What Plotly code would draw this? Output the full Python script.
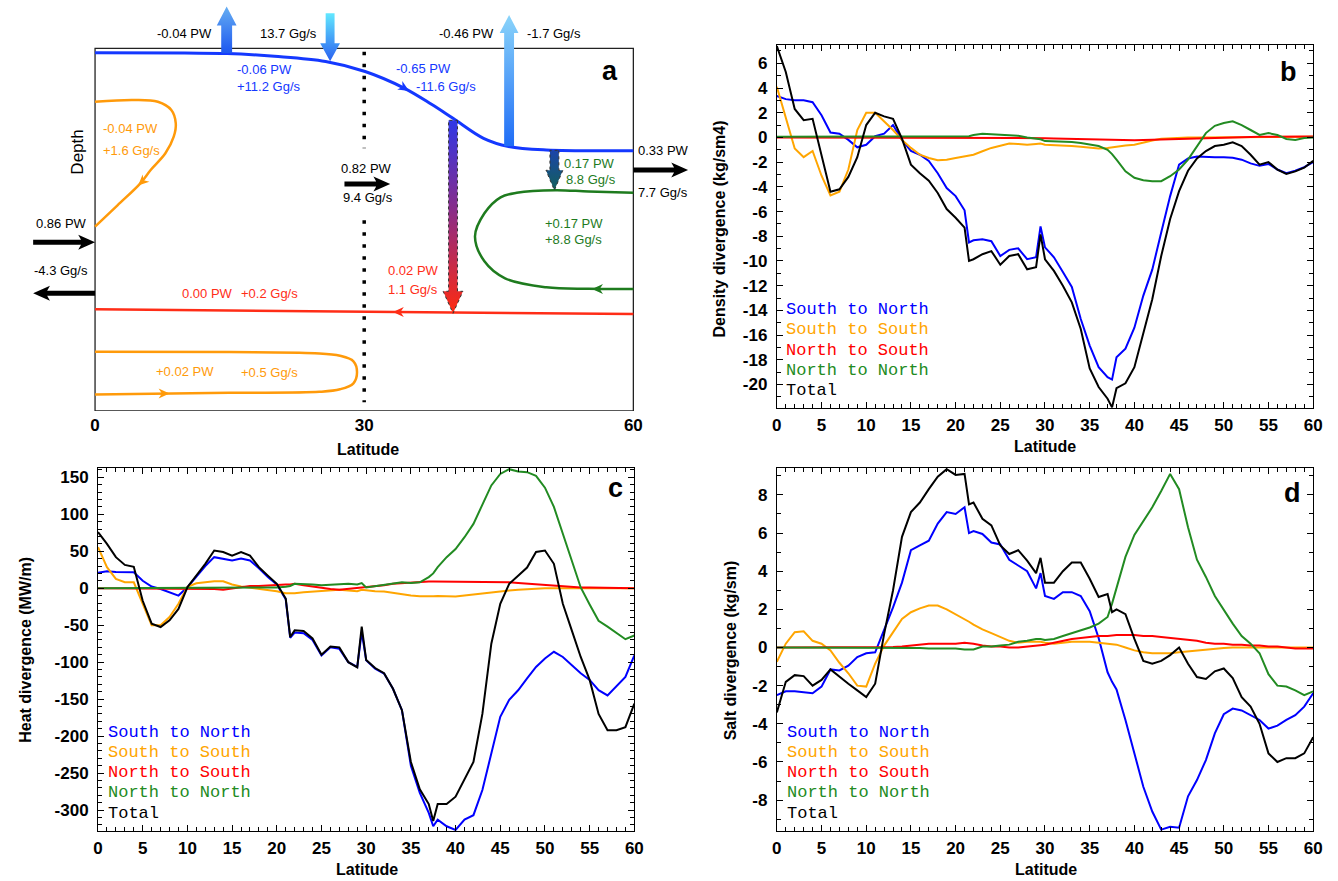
import math
import plotly.graph_objects as go

W, H = 1338, 881

# ---------------------------------------------------------------- data (panels b, c, d)
LAT = list(range(0, 22)) + [21.5] + list(range(22, 30)) + [29.5] + list(range(30, 38)) + [37.5] + list(range(38, 61))

SERIES_NAMES = ["South to North", "South to South", "North to South", "North to North", "Total"]
SERIES_COLORS = ["#0000ff", "#ffa500", "#ff0000", "#228b22", "#000000"]

# density divergence (kg/sm4)
b_s2n = [3.35, 3.1, 3.0, 3.0, 2.85, 1.8, 0.4, 0.3, -0.2, -0.8,
         -0.6, 0.1, 0.3, 1.0, -0.2, -1.1, -1.4, -1.9, -2.9, -4.1,
         -4.75, -5.9, -8.5,
         -8.33, -8.25, -8.4, -9.6, -9.1, -8.97, -9.86, -9.7,
         -7.2,
         -8.9, -9.7, -10.9, -12.1, -14.7, -16.85, -18.6, -19.4,
         -19.6,
         -17.8, -17.1, -15.4, -12.8, -10.7, -7.7, -4.75, -2.2, -1.7, -1.55,
         -1.6, -1.6, -1.6, -1.65, -1.8, -2.1, -2.3, -2.15, -2.6, -2.9,
         -2.7, -2.4, -2.0]
b_s2s = [4.1, 1.5, -0.9, -1.6, -1.1, -3.1, -4.7, -4.4, -2.6, 0.6,
         2.0, 2.0, 1.3, 0.6, -0.2, -0.85, -1.4, -1.66, -1.85, -1.8,
         -1.66, -1.53, -1.5,
         -1.4, -1.12, -0.85, -0.67, -0.5, -0.53, -0.6, -0.53,
         -0.5,
         -0.6, -0.62, -0.65, -0.7, -0.75, -0.85, -0.9, -0.85,
         -0.8,
         -0.7, -0.65, -0.6, -0.4, -0.25, -0.1, -0.05, 0.0, 0.0, 0.0,
         0.0, 0.0, 0.0, 0.0, 0.0, 0.0, 0.02, 0.03, 0.04, 0.05,
         0.05, 0.05, 0.05]
b_n2s = [0, 0, 0, 0, 0, 0, 0, 0, 0, 0,
         0, 0, 0, 0, 0, 0, 0, 0, 0, 0,
         0, 0, 0,
         0, 0, 0, -0.02, -0.03, -0.05, -0.05, -0.05,
         -0.05,
         -0.06, -0.08, -0.1, -0.12, -0.14, -0.15, -0.15, -0.17,
         -0.18,
         -0.2, -0.22, -0.22, -0.2, -0.18, -0.15, -0.12, -0.1, -0.07, -0.05,
         -0.02, 0.0, 0.02, 0.03, 0.04, 0.05, 0.05, 0.05, 0.06, 0.06,
         0.07, 0.08, 0.08]
b_n2n = [0.05, 0.05, 0.05, 0.05, 0.05, 0.05, 0.05, 0.05, 0.05, 0.05,
         0.05, 0.05, 0.05, 0.05, 0.05, 0.05, 0.05, 0.05, 0.05, 0.05,
         0.05, 0.08, 0.1,
         0.2, 0.3, 0.25, 0.2, 0.17, 0.13, 0.0, -0.1,
         -0.15,
         -0.3, -0.32, -0.33, -0.38, -0.45, -0.55, -0.7, -1.0,
         -1.35,
         -1.8, -2.74, -3.27, -3.46, -3.54, -3.54, -3.14, -2.6, -1.8, -0.7,
         0.35, 0.94, 1.16, 1.3, 1.0, 0.6, 0.2, 0.35, 0.2, -0.13,
         -0.2, -0.05, 0.0]
b_tot = [7.4, 5.3, 2.3, 1.4, 1.5, -1.5, -4.4, -4.2, -3.2, -1.6,
         1.0, 2.0, 1.7, 1.5, -0.1, -2.2, -2.9, -3.5, -4.5, -5.8,
         -6.5, -7.3, -10.0,
         -9.86, -9.45, -9.2, -10.3, -9.6, -9.45, -10.67, -10.5,
         -7.85,
         -9.86, -10.8, -12.0, -13.35, -15.5, -18.7, -20.2, -21.15,
         -21.85,
         -20.3, -19.9, -18.6, -15.8, -13.1, -9.6, -6.6, -4.35, -2.7, -1.7,
         -1.1, -0.7, -0.6, -0.4, -0.7, -1.4, -2.2, -2.0, -2.6, -2.95,
         -2.75, -2.45, -1.9]

# heat divergence (MW/m)
c_s2n = [21, 23, 22, 22, 21.5, 10, 2.3, -1, -5.4, -10,
         1.3, 15, 30, 42, 40, 37.5, 40, 37.5, 27, 15,
         5, -15, -67,
         -60, -61, -70, -91, -80, -82, -100, -106.5,
         -59,
         -97.5, -109, -115.5, -136, -165, -240, -277, -304,
         -322,
         -313, -322, -327, -313, -307, -273, -223, -174, -151, -138,
         -122, -106.5, -95, -86, -93, -104, -115, -124, -138, -145,
         -133, -120, -91]
c_s2s = [55.5, 28.5, 12.6, 8, 8, -21, -50, -50, -39, -21,
         2, 6.7, 8, 9.5, 9.5, 5, 2.2, 0.5, -1, -2.2,
         -4, -6.7, -7,
         -6.7, -5.4, -4.5, -3.6, -2.2, -2.2, -3.1, -4,
         -2,
         -3, -4, -4.5, -6.3, -8.5, -10, -11, -11.3,
         -11,
         -10.4, -11, -11.3, -10, -8.5, -6.7, -5.4, -4, -3, -2.2,
         -1.3, -0.5, 0, 0, 0, 0, 0, 0, 0, 0,
         0, 0, 0]
c_n2s = [0, 0, 0, 0, 0, 0, 0, 0, 0, 0,
         0, 0, 0, -1, -2, 0, 2, 3, 3, 4,
         5, 5, 5,
         6, 4, 2, 0, -1, -2, -1, 0,
         1,
         2, 3, 4, 6, 7, 8, 9, 9,
         9,
         9, 9, 9, 8, 8, 8, 9, 9, 8, 7,
         6, 6, 5, 4, 2, 1, 1, 1, 1, 1,
         0, 0, 0]
c_n2n = [0, 0, 0, 0, 0, 0, 0, 0, 0, 0,
         0, 0.5, 1, 1, 1, 1, 1, 1, 1, 1,
         1, 2, 3,
         6, 6, 5, 4, 5, 6, 6, 5,
         7,
         1, 3, 5, 7, 8, 7, 8, 15,
         20,
         28.5, 42, 53, 69, 87, 114, 139, 154.5, 161, 158,
         157, 152, 136, 110, 73, 37, 1, -22, -44, -52,
         -60, -69, -64]
c_tot = [76, 60, 42, 31.5, 29, -17, -48, -52.5, -43.5, -28,
         1.3, 17, 33, 51, 49, 44, 49, 44, 28.5, 17,
         6, -14, -66,
         -57, -58, -68, -90, -79, -80, -100, -107,
         -52,
         -97, -108, -115, -136, -165, -235, -272, -292,
         -315,
         -292, -292, -282, -258, -235, -170, -75, -21, 6, 17,
         28, 49, 51, 33, -21, -57, -93, -124, -170, -192,
         -192, -188, -156]

# salt divergence (kg/sm)
d_s2n = [-2.5, -2.3, -2.3, -2.35, -2.4, -2.05, -1.15, -1.2, -0.95, -0.5,
         -0.3, -0.25, 0.9, 2.1, 3.4, 5.1, 5.35, 5.6, 6.5, 7.1,
         7.0, 7.35, 6.0,
         6.1, 5.95, 5.5, 5.4, 4.6, 4.3, 4.0, 3.1,
         3.9,
         2.7, 2.55, 2.9, 2.9, 2.7, 1.9, 0.5, -1.3,
         -1.8,
         -2.2, -3.8, -5.6, -7.3, -8.6, -9.55, -9.4, -9.45, -7.8, -6.95,
         -5.9, -4.5, -3.5, -3.2, -3.3, -3.55, -3.8, -4.25, -4.1, -3.8,
         -3.55, -3.1, -2.4]
d_s2s = [-0.75, 0.2, 0.8, 0.85, 0.35, 0.2, -0.15, -0.8, -1.35, -2.0,
         -2.05, -0.85, 0.1, 0.8, 1.5, 1.85, 2.05, 2.2, 2.2, 2.0,
         1.75, 1.5, 1.35,
         1.2, 0.95, 0.75, 0.55, 0.35, 0.25, 0.3, 0.3,
         0.3,
         0.25, 0.2, 0.25, 0.3, 0.3, 0.3, 0.25, 0.2,
         0.18,
         0.15, 0.0, -0.15, -0.25, -0.3, -0.3, -0.3, -0.25, -0.2, -0.15,
         -0.1, -0.05, -0.02, 0, 0, 0, 0, 0, 0, 0,
         0, 0, 0]
d_n2s = [0, 0, 0, 0, 0, 0, 0, 0, 0, 0,
         0.02, 0.02, 0.02, 0.02, 0.05, 0.1, 0.15, 0.2, 0.2, 0.2,
         0.2, 0.25, 0.22,
         0.2, 0.1, 0.05, 0.05, 0.0, 0.0, 0.05, 0.1,
         0.12,
         0.15, 0.25, 0.35, 0.45, 0.5, 0.55, 0.6, 0.6,
         0.62,
         0.65, 0.65, 0.65, 0.6, 0.6, 0.55, 0.5, 0.45, 0.4, 0.35,
         0.25, 0.2, 0.2, 0.15, 0.15, 0.1, 0.1, 0.05, 0.05, 0.0,
         -0.05, -0.05, -0.05]
d_n2n = [0, 0, 0, 0, 0, 0, 0, 0, 0, 0,
         0, 0, 0, 0, 0, 0, -0.02, -0.05, -0.05, -0.05,
         -0.05, -0.1, -0.1,
         -0.1, 0.05, 0.05, 0.1, 0.15, 0.3, 0.35, 0.45,
         0.45,
         0.4, 0.45, 0.6, 0.75, 0.9, 1.05, 1.25, 1.6,
         2.3,
         3.15, 4.75, 5.9, 6.65, 7.35, 8.2, 9.1, 8.3, 6.3, 4.6,
         3.7, 2.7, 1.95, 1.25, 0.6, 0.2, -0.3, -1.4, -2.0, -2.05,
         -2.25, -2.5, -2.3]
d_tot = [-3.4, -1.8, -1.45, -1.5, -2.0, -1.7, -1.15, -1.55, -1.9, -2.25,
         -2.6, -1.9, 0.7, 3.0, 5.8, 7.1, 7.6, 8.3, 8.95, 9.35,
         9.05, 9.1, 7.5,
         7.6, 6.75, 6.4, 5.35, 4.9, 5.1, 4.55, 3.9,
         4.7,
         3.4, 3.4, 4.0, 4.45, 4.45, 3.6, 2.65, 2.8,
         1.85,
         2.0, 1.75, 0.45, -0.7, -0.85, -0.7, -0.4, 0.0, -0.85, -1.55,
         -1.65, -1.25, -1.1, -1.6, -2.6, -3.1, -4.0, -5.55, -6.0, -5.8,
         -5.8, -5.55, -4.7]

X_TICKS = list(range(0, 61, 5))
B_YTICKS = list(range(-20, 7, 2))
C_YTICKS = list(range(-300, 151, 50))
D_YTICKS = list(range(-8, 9, 2))
A_XTICKS = [0, 30, 60]

# ---------------------------------------------------------------- panel a schematic (lat, depth units)
A_BLUE_LAT = [0, 10, 14.7, 20, 25.7, 30.1, 34.5, 37.5, 39.9, 43.3, 46.1, 50.3, 60]
A_BLUE_D = [4.4, 4.8, 5.2, 8.0, 13.2, 23.2, 40, 56, 70, 90, 98.2, 101.7, 102.4]
A_ORANGE_UP_LAT = [0, 4.3, 7.0, 8.5, 9.0, 8.77, 7.84, 6.2, 5.05, 2.5, 0]
A_ORANGE_UP_D = [53.4, 51.7, 53.5, 61.7, 75, 88.4, 105, 121.7, 135, 157, 178.4]
A_ORANGE_LOW_LAT = [0, 15, 24.5, 27.3, 28.8, 29.2, 28.8, 27.3, 25, 15, 0]
A_ORANGE_LOW_D = [303.4, 303.8, 305, 307.5, 313, 324, 335, 341, 343.5, 344.5, 346.3]
A_RED_LAT = [0, 60]
A_RED_D = [261, 265.7]
A_GREEN_LAT = [60, 55, 51.3, 47, 45.2, 43.4, 42.35, 43.4, 45.7, 50.3, 55, 60]
A_GREEN_D = [144.4, 143.2, 141.9, 144.5, 149, 165, 188, 213, 230, 239, 240.5, 240.7]
A_DOTS = [(3.5, 100), (172, 354)]

BLUE_A, ORANGE_A, RED_A, GREEN_A = "#1438ff", "#ff9a0a", "#ff2d17", "#1e7b1e"

# ---------------------------------------------------------------- geometry helpers
def pap(xp, yp):
    return xp / W, 1 - yp / H

A_X0, A_X1, A_TOP, A_BOT = 91.0, 635.0, 48.3, 411.0   # frame in pixels
SX = (A_X1 - A_X0) / 60.0
A_XRANGE = [(20 - A_X0) / SX, (700 - A_X0) / SX]
A_YRANGE = [A_BOT - A_TOP, -A_TOP]


def arrow_poly(x0, y0, x1, y1, sw, hw, hl, notch=0.0):
    X0, Y0, X1, Y1 = x0 * SX, y0, x1 * SX, y1
    dx, dy = X1 - X0, Y1 - Y0
    L = math.hypot(dx, dy)
    ux, uy = dx / L, dy / L
    nx, ny = -uy, ux
    b = L - hl
    if sw > 0:
        sb = b + notch * hl * (1 - sw / hw)
        st = [(0, -sw / 2), (sb, -sw / 2), (b, -hw / 2), (L, 0), (b, hw / 2), (sb, sw / 2), (0, sw / 2), (0, -sw / 2)]
    else:
        st = [(b, -hw / 2), (L, 0), (b, hw / 2), (b + notch * hl, 0), (b, -hw / 2)]
    xs = [(X0 + s * ux + t * nx) / SX for s, t in st]
    ys = [Y0 + s * uy + t * ny for s, t in st]
    return xs, ys


def head_poly(xt, yt, dxp, dyp, hw=10, hl=11, notch=0.3):
    n = math.hypot(dxp, dyp)
    x0 = xt - dxp / n * hl / SX
    y0 = yt - dyp / n * hl
    return arrow_poly(x0, y0, xt, yt, 0, hw, hl, notch)


fig = go.Figure()
A = dict(xaxis="x", yaxis="y", hoverinfo="skip", showlegend=False)

# frame of panel a
shapes = [dict(type="rect", xref="x", yref="y", x0=0, x1=60, y0=0, y1=A_BOT - A_TOP,
               line=dict(color="#222", width=1.3), layer="below")]

# dotted line at 30
for d0, d1 in A_DOTS:
    fig.add_trace(go.Scatter(x=[30, 30], y=[d0, d1], mode="lines",
                             line=dict(color="black", width=3.5, dash="3.5px,8.5px"), **A))

# curves
fig.add_trace(go.Scatter(x=A_BLUE_LAT, y=A_BLUE_D, mode="lines", line=dict(color=BLUE_A, width=3, shape="spline", smoothing=1.0), **A))
fig.add_trace(go.Scatter(x=A_ORANGE_UP_LAT, y=A_ORANGE_UP_D, mode="lines", line=dict(color=ORANGE_A, width=2.5, shape="spline", smoothing=1.0), **A))
fig.add_trace(go.Scatter(x=A_ORANGE_LOW_LAT, y=A_ORANGE_LOW_D, mode="lines", line=dict(color=ORANGE_A, width=2.5, shape="spline", smoothing=1.0), **A))
fig.add_trace(go.Scatter(x=A_RED_LAT, y=A_RED_D, mode="lines", line=dict(color=RED_A, width=2.5), **A))
fig.add_trace(go.Scatter(x=A_GREEN_LAT, y=A_GREEN_D, mode="lines", line=dict(color=GREEN_A, width=2.5, shape="spline", smoothing=1.0), **A))

# small arrowheads on the curves: tip lat, tip depth, direction (px), colour
A_HEADS = [(35.0, 42.6, 1.0, 0.6, BLUE_A), (4.8, 137.3, -1.0, 0.95, ORANGE_A),
           (8.3, 345.1, 1.0, 0.0, ORANGE_A), (33.2, 263.6, -1.0, 0.0, RED_A),
           (55.4, 240.6, -1.0, 0.0, GREEN_A)]
for xt, yt, dx, dy, col in A_HEADS:
    xs, ys = head_poly(xt, yt, dx, dy)
    fig.add_trace(go.Scatter(x=xs, y=ys, mode="lines", fill="toself", fillcolor=col, line=dict(width=0, color=col), **A))

# big vertical gradient arrows: tail(lat,d), tip(lat,d), shaft px, head width px, head length px, colorscale, outline
A_BIG = [
    (14.67, 5.0, 14.67, -41.7, 11, 20, 19, [[0, "#66aef2"], [1, "#1c56f0"]], False),
    (46.15, 98.0, 46.15, -33.3, 10, 19, 18, [[0, "#8ad4fa"], [1, "#1f6cf6"]], False),
    (26.2, -35.0, 26.2, 13.0, 9, 20, 18, [[0, "#62e8ff"], [1, "#2a60f0"]], False),
    (39.9, 72.0, 39.9, 265.0, 9, 20, 22, [[0, "#3038e6"], [0.45, "#862c8c"], [1, "#ff2a10"]], True),
    (51.2, 102.0, 51.2, 142.0, 9, 17, 20, [[0, "#1c44aa"], [1, "#12605a"]], True),
]
for x0, y0, x1, y1, sw, hw, hl, cs, outline in A_BIG:
    xs, ys = arrow_poly(x0, y0, x1, y1, sw, hw, hl, 0.0)
    line = dict(width=1, color="#333", dash="dot") if outline else dict(width=0, color=cs[0][1])
    fig.add_trace(go.Scatter(x=xs, y=ys, mode="lines", fill="toself", fillcolor=cs[-1][1],
                             fillgradient=dict(type="vertical", colorscale=cs, start=min(ys), stop=max(ys)),
                             line=line, **A))

# black horizontal transport arrows
A_BLACK = [(27.8, 135.7, 32.9, 135.7), (-6.9, 194.0, 0.0, 194.0), (0.0, 245.0, -6.9, 245.0), (60.0, 121.7, 66.1, 121.7)]
for x0, y0, x1, y1 in A_BLACK:
    xs, ys = arrow_poly(x0, y0, x1, y1, 5, 15, 17, 0.25)
    fig.add_trace(go.Scatter(x=xs, y=ys, mode="lines", fill="toself", fillcolor="black", line=dict(width=0, color="black"), **A))

A_LABELS = [
    ("-0.04 PW", 9.93, -15, "black", "center"), ("13.7 Gg/s", 21.6, -15, "black", "center"),
    ("-0.46 PW", 41.4, -15, "black", "center"), ("-1.7 Gg/s", 51.2, -15, "black", "center"),
    ("-0.06 PW", 15.6, 21, BLUE_A, "left"), ("+11.2 Gg/s", 15.6, 38.4, BLUE_A, "left"),
    ("-0.65 PW", 33.3, 20, BLUE_A, "left"), ("-11.6 Gg/s", 35.6, 38.4, BLUE_A, "left"),
    ("-0.04 PW", 0.7, 80, ORANGE_A, "left"), ("+1.6 Gg/s", 0.7, 102.4, ORANGE_A, "left"),
    ("0.82 PW", 30.3, 120, "black", "center"), ("9.4 Gg/s", 30.4, 149, "black", "center"),
    ("0.86 PW", -3.77, 175, "black", "center"), ("-4.3 Gg/s", -3.77, 221.7, "black", "center"),
    ("0.33 PW", 60.3, 101.7, "black", "left"), ("7.7 Gg/s", 60.3, 144.4, "black", "left"),
    ("0.17 PW", 52.1, 115, GREEN_A, "left"), ("8.8 Gg/s", 52.3, 130.7, GREEN_A, "left"),
    ("+0.17 PW", 53.35, 175, GREEN_A, "center"), ("+8.8 Gg/s", 53.35, 190.7, GREEN_A, "center"),
    ("0.02 PW", 35.47, 221.7, RED_A, "center"), ("1.1 Gg/s", 35.4, 240.7, RED_A, "center"),
    ("0.00 PW", 12.5, 245, RED_A, "center"), ("+0.2 Gg/s", 19.45, 245, RED_A, "center"),
    ("+0.02 PW", 10.0, 323.4, ORANGE_A, "center"), ("+0.5 Gg/s", 19.45, 324.4, ORANGE_A, "center"),
]

SANS = "Liberation Sans, Arial, sans-serif"
MONO = "Liberation Mono, Courier New, monospace"
annotations = []
for text, xl, yd, col, anc in A_LABELS:
    annotations.append(dict(text=text, x=xl, y=yd, xref="x", yref="y", showarrow=False,
                            xanchor=anc, yanchor="middle", font=dict(family=SANS, size=13, color=col)))


def add_text(text, xp, yp, size, color="black", bold=False, family=SANS, angle=0, xanchor="center"):
    x, y = pap(xp, yp)
    annotations.append(dict(text=text, x=x, y=y, xref="paper", yref="paper", showarrow=False,
                            xanchor=xanchor, yanchor="middle", textangle=angle,
                            font=dict(family=family, size=size, color=color, weight="bold" if bold else "normal")))


add_text("Depth", 73.7, 151.7, 17, angle=-90)
add_text("a", 611, 71, 27, bold=True)
add_text("b", 1297, 72, 27, bold=True)
add_text("c", 617, 488, 27, bold=True)
add_text("d", 1301, 493, 27, bold=True)
for xp, yp in [(367, 449), (1051, 447), (366, 869), (1052, 869)]:
    add_text("Latitude", xp, yp, 16, bold=True)
add_text("Density divergence (kg/sm4)", 722, 229, 16, bold=True, angle=-90)
add_text("Heat divergence (MW/m)", 20, 650, 16, bold=True, angle=-90)
add_text("Salt divergence (kg/sm)", 733, 650, 16, bold=True, angle=-90)

for x_left, y_first in [(787, 309.5), (102, 732), (788, 732)]:
    for i, (name, col) in enumerate(zip(SERIES_NAMES, SERIES_COLORS)):
        add_text(name, x_left, y_first + i * 20.3, 17, color=col, family=MONO, xanchor="left")

# ---------------------------------------------------------------- panels b, c, d traces
PANELS = [("x2", "y2", [b_s2n, b_s2s, b_n2s, b_n2n, b_tot]),
          ("x3", "y3", [c_s2n, c_s2s, c_n2s, c_n2n, c_tot]),
          ("x4", "y4", [d_s2n, d_s2s, d_n2s, d_n2n, d_tot])]
for xa, ya, series in PANELS:
    for vals, name, col in zip(series, SERIES_NAMES, SERIES_COLORS):
        fig.add_trace(go.Scatter(x=LAT, y=vals, mode="lines", name=name, line=dict(color=col, width=2),
                                 xaxis=xa, yaxis=ya, showlegend=False))

TICKFONT = dict(family=SANS, size=17, color="black", weight="bold")


def data_axis(rng, ticks, minor_dtick, domain, anchor, standoff):
    return dict(domain=domain, anchor=anchor, range=rng, tickmode="array", tickvals=ticks,
                ticktext=[str(t) for t in ticks], ticks="inside", ticklen=6, tickwidth=1, tickcolor="black",
                minor=dict(tickmode="linear", tick0=0, dtick=minor_dtick, ticks="inside", ticklen=4,
                           tickwidth=1, tickcolor="black"),
                showline=True, linecolor="black", linewidth=1, mirror="allticks",
                showgrid=False, zeroline=False, tickfont=TICKFONT, ticklabelstandoff=standoff)


XB = [780 / W, 1322 / W]
XC = [94 / W, 636 / W]
YB = [1 - 408 / H, 1 - 45 / H]
YC = [1 - 831 / H, 1 - 468 / H]

fig.update_layout(
    width=W, height=H, autosize=False, margin=dict(l=0, r=0, t=0, b=0),
    paper_bgcolor="white", plot_bgcolor="rgba(0,0,0,0)", showlegend=False,
    xaxis=dict(domain=[20 / W, 700 / W], anchor="y", range=A_XRANGE, tickmode="array", tickvals=A_XTICKS,
               ticktext=[str(t) for t in A_XTICKS], ticks="", showline=False, showgrid=False, zeroline=False,
               tickfont=TICKFONT, ticklabelstandoff=2),
    yaxis=dict(domain=[1 - A_BOT / H, 1], anchor="x", range=A_YRANGE, visible=False),
    xaxis2=data_axis([0, 60], X_TICKS, 1, XB, "y2", 2),
    yaxis2=data_axis([-21.9, 7.48], B_YTICKS, 1, YB, "x2", 5),
    xaxis3=data_axis([0, 60], X_TICKS, 1, XC, "y3", 2),
    yaxis3=data_axis([-328.4, 162.6], C_YTICKS, 10, YC, "x3", 5),
    xaxis4=data_axis([0, 60], X_TICKS, 1, XB, "y4", 2),
    yaxis4=data_axis([-9.62, 9.41], D_YTICKS, 1, YC, "x4", 5),
    shapes=shapes, annotations=annotations,
)

fig.write_html("out.html", config={"displayModeBar": False},
               post_script="document.body.style.margin='0';document.body.style.overflow='hidden';")
